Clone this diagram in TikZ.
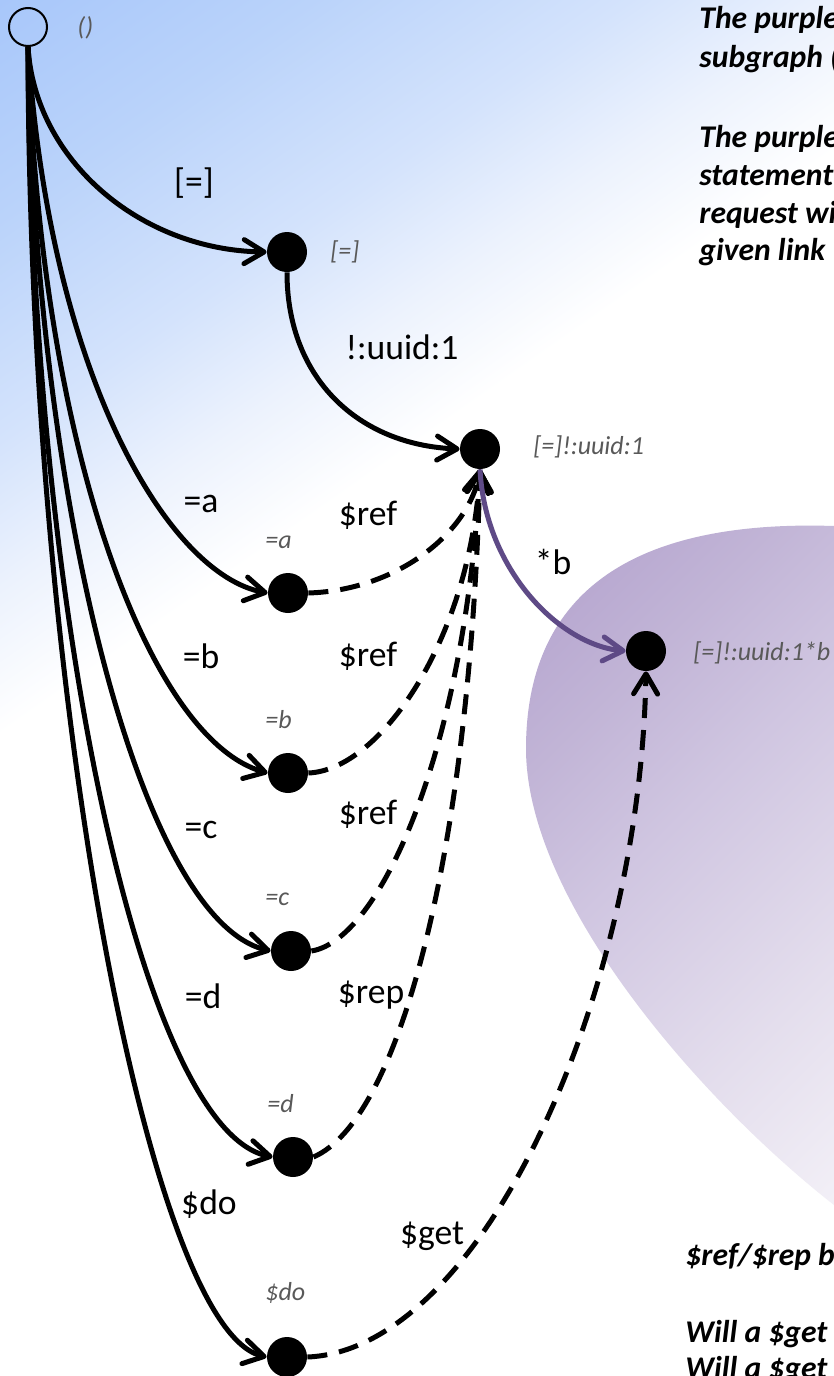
\documentclass[tikz,border=0pt]{standalone}
\usepackage{fontspec}
\setmainfont{Carlito}
\usetikzlibrary{arrows.meta}
\definecolor{bgA}{RGB}{168,199,250}
\definecolor{bgB}{RGB}{186,211,250}
\definecolor{bgC}{RGB}{212,227,252}
\definecolor{bgD}{RGB}{236,242,253}
\definecolor{puA}{RGB}{180,163,206}
\definecolor{puB}{RGB}{193,180,214}
\definecolor{puC}{RGB}{208,198,225}
\definecolor{puD}{RGB}{228,222,237}
\definecolor{puE}{RGB}{246,244,249}
\definecolor{puF}{RGB}{250,249,252}
\definecolor{edgepurple}{RGB}{94,74,134}
\definecolor{labelgray}{RGB}{89,89,89}
\pgfdeclarehorizontalshading{bgsh}{100bp}{color(0bp)=(bgA); color(25bp)=(bgA); color(30.6bp)=(bgB); color(36.25bp)=(bgC); color(40bp)=(bgD); color(43.75bp)=(white); color(100bp)=(white)}
\pgfdeclarehorizontalshading{push}{100bp}{color(0bp)=(puA); color(49.89bp)=(puA); color(54.41bp)=(puB); color(58.94bp)=(puC); color(65.72bp)=(puD); color(72.51bp)=(puE); color(75bp)=(puF); color(100bp)=(puF)}
\begin{document}
\begin{tikzpicture}[x=0.5pt,y=-0.5pt,
  dotnode/.style={circle,fill=black,inner sep=0pt,minimum size=20pt},
  rootnode/.style={circle,draw=black,line width=1pt,inner sep=0pt,minimum size=19pt},
  lnk/.style={line width=2.5pt,-{Straight Barb[length=10pt,width=12pt,round]}},
  reflnk/.style={lnk,dash pattern=on 10pt off 6pt},
  sublnk/.style={lnk,draw=edgepurple},
  elabel/.style={font=\fontsize{17.8}{21}\selectfont,anchor=base,inner sep=0pt},
  nlabel/.style={font=\fontsize{13}{16}\selectfont\itshape,text=labelgray,anchor=base west,inner sep=0pt},
  notetext/.style={font=\fontsize{15.8}{19}\selectfont\bfseries\itshape,anchor=base west,inner sep=0pt}]
\useasboundingbox (0,0) rectangle (834,1376);
\begin{scope}
\clip (0,0) rectangle (834,1376);
% background
\begin{scope}[transform canvas={rotate=-55}]
\shade[shading=bgsh] (0,-1700) rectangle (1606,1700);
\end{scope}
% purple subgraph blob
\begin{scope}
\clip (834,526) .. controls (650,520) and (527,580) .. (526,747) .. controls (525,900) and (700,1100) .. (834,1205) -- (900,1205) -- (900,526) -- cycle;
\begin{scope}[transform canvas={rotate=-45}]
\shade[shading=push] (0,-1700) rectangle (1563,1700);
\end{scope}
\end{scope}
% nodes
\node[rootnode] (root) at (28,27) {};
\node[dotnode] (eq) at (287,252) {};
\node[dotnode] (uuid) at (480,449) {};
\node[dotnode] (bstar) at (646,651) {};
\node[dotnode] (na) at (288,593) {};
\node[dotnode] (nb) at (288,773) {};
\node[dotnode] (nc) at (291,951) {};
\node[dotnode] (nd) at (293,1157) {};
\node[dotnode] (ndo) at (287,1357) {};
% edges
\draw[lnk] (root.south) .. controls (35,160) and (140,250) .. (eq.west);
\draw[lnk] (eq.south) .. controls (287,380) and (360,445) .. (uuid.west);
\draw[lnk] (root.south) .. controls (50,380) and (170,575) .. (na.west);
\draw[lnk] (root.south) .. controls (40,450) and (150,740) .. (nb.west);
\draw[lnk] (root.south) .. controls (35,500) and (140,920) .. (nc.west);
\draw[lnk] (root.south) .. controls (30,600) and (140,1130) .. (nd.west);
\draw[lnk] (root.south) .. controls (29,700) and (150,1330) .. (ndo.west);
\draw[reflnk] (na.east) .. controls (400,590) and (470,530) .. (uuid.south);
\draw[reflnk] (nb.east) .. controls (380,770) and (470,640) .. (uuid.south);
\draw[reflnk] (nc.east) .. controls (380,940) and (465,750) .. (uuid.south);
\draw[reflnk] (nd.east) .. controls (400,1120) and (470,850) .. (uuid.south);
\draw[reflnk] (ndo.east) .. controls (480,1350) and (640,1000) .. (bstar.south);
\draw[sublnk] (uuid.south) .. controls (485,570) and (560,645) .. (bstar.west);
% edge labels
\node[elabel] (l1) at (194,193) {[=]};
\node[elabel] (l2) at (402,359) {!:uuid:1};
\node[elabel] (l3) at (201,512) {=a};
\node[elabel] (l4) at (368,525) {\$ref};
\node[elabel] (l5) at (553,574) {*b};
\node[elabel] (l6) at (201,668) {=b};
\node[elabel] (l7) at (368,666) {\$ref};
\node[elabel] (l8) at (201,838) {=c};
\node[elabel] (l9) at (368,824) {\$ref};
\node[elabel] (l10) at (203,1008) {=d};
\node[elabel] (l11) at (371,1003) {\$rep};
\node[elabel] (l12) at (209,1214) {\$do};
\node[elabel] (l13) at (432,1244) {\$get};
% node labels
\node[nlabel] (g1) at (77,35) {()};
\node[nlabel] (g2) at (330,259) {[=]};
\node[nlabel] (g3) at (533,454) {[=]!:uuid:1};
\node[nlabel] (g4) at (693,660) {[=]!:uuid:1*b};
\node[nlabel] (g5) at (265,548) {=a};
\node[nlabel] (g6) at (265,728) {=b};
\node[nlabel] (g7) at (265,905) {=c};
\node[nlabel] (g8) at (267,1112) {=d};
\node[nlabel] (g9) at (265,1300) {\$do};
% notes
\node[notetext] (t1) at (699,28) {The purple};
\node[notetext] (t2) at (699,67) {subgraph (};
\node[notetext] (t3) at (699,147) {The purple};
\node[notetext] (t4) at (699,185) {statement};
\node[notetext] (t5) at (699,223) {request wi};
\node[notetext] (t6) at (699,260) {given link};
\node[notetext] (t7) at (685,1265) {\$ref/\$rep b};
\node[notetext] (t8) at (685,1342) {Will a \$get};
\node[notetext] (t9) at (685,1378) {Will a \$get};
\end{scope}
\end{tikzpicture}
\end{document}
